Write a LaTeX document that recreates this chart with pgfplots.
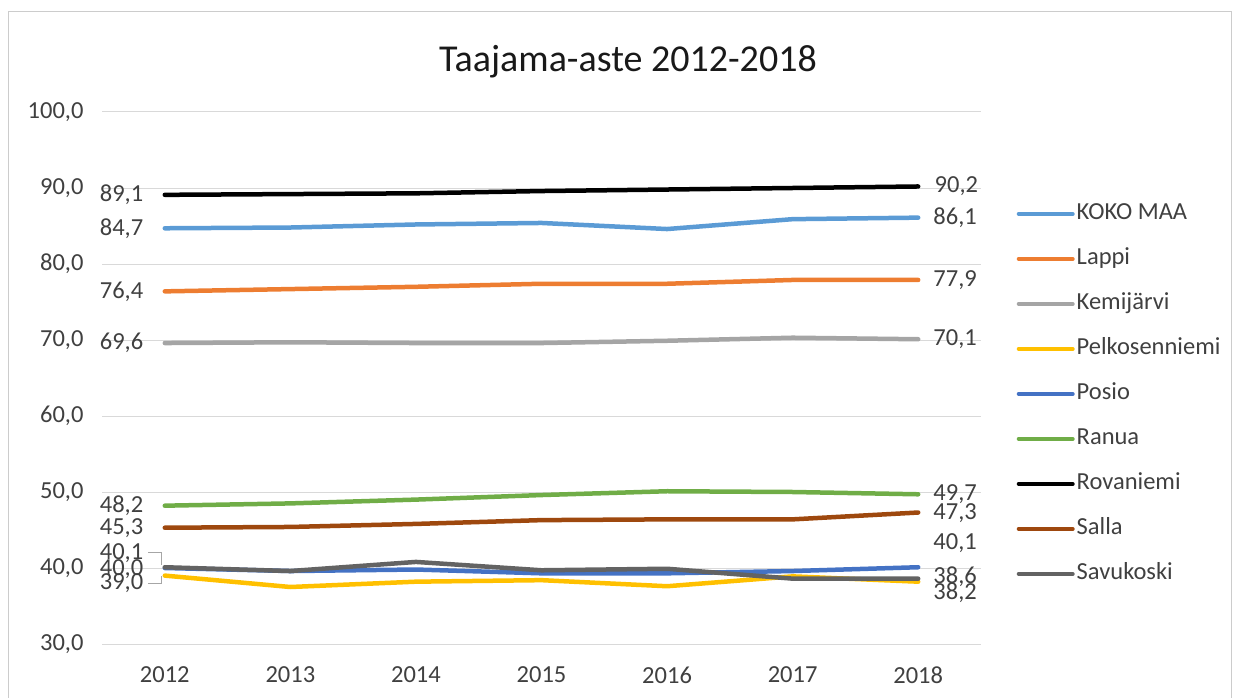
\documentclass[border=0pt]{standalone}
\usepackage{pgfplots}
\pgfplotsset{compat=1.18}
\usepackage{fontspec}
\setmainfont{Carlito}
\definecolor{cKoko}{HTML}{5B9BD5}
\definecolor{cLappi}{HTML}{ED7D31}
\definecolor{cKemi}{HTML}{A5A5A5}
\definecolor{cPelko}{HTML}{FFC000}
\definecolor{cPosio}{HTML}{4472C4}
\definecolor{cRanua}{HTML}{70AD47}
\definecolor{cRova}{HTML}{000000}
\definecolor{cSalla}{HTML}{9E480E}
\definecolor{cSavu}{HTML}{636363}
\definecolor{txt}{HTML}{404040}
\newcommand{\sm}{\fontsize{24.5}{29}\selectfont}
\begin{document}
\begin{tikzpicture}[x=1pt,y=1pt]
\useasboundingbox (0,0) rectangle (1234,697);
\draw[color=black!20, line width=1pt] (8.5,-10) rectangle (1231,685);
\node[font=\fontsize{38}{45}\selectfont, text=black!90] at (628,635) {Taajama-aste 2012-2018};
\begin{axis}[at={(102pt,53pt)}, anchor=south west, scale only axis,
  width=879pt, height=532pt,
  xmin=2011.5, xmax=2018.5, ymin=30, ymax=100,
  xtick={2012,2013,2014,2015,2016,2017,2018},
  xticklabels={2012,2013,2014,2015,2016,2017,2018},
  ytick={30,40,50,60,70,80,90,100},
  ymajorgrids, grid style={black!15, line width=1pt},
  axis line style={draw=none}, major tick length=0pt,
  /pgf/number format/assume math mode=true,
  yticklabel style={/pgf/number format/fixed, /pgf/number format/fixed zerofill, /pgf/number format/precision=1, /pgf/number format/use comma, xshift=-15pt},
  tick label style={font=\sm, text=txt},
  xticklabel style={yshift=-19pt},
  every axis plot/.append style={line width=4.5pt, line join=round, line cap=round},
  legend style={at={(1.037,0.47)}, anchor=west, draw=none, fill=none, font=\sm, text=txt,
    row sep=20pt, nodes={text height=16pt, text depth=5pt, inner sep=2pt}},
  legend cell align=left,
  legend image code/.code={\draw[#1, line width=4pt, line cap=round] (0pt,0pt) -- (54pt,0pt);},
  clip=false,
]
\addplot[cKoko] coordinates {(2012,84.7) (2013,84.8) (2014,85.2) (2015,85.4) (2016,84.6) (2017,85.9) (2018,86.1)};
\addlegendentry{KOKO MAA}
\addplot[cLappi] coordinates {(2012,76.4) (2013,76.7) (2014,77.0) (2015,77.4) (2016,77.4) (2017,77.9) (2018,77.9)};
\addlegendentry{Lappi}
\addplot[cKemi] coordinates {(2012,69.6) (2013,69.7) (2014,69.6) (2015,69.6) (2016,69.9) (2017,70.3) (2018,70.1)};
\addlegendentry{Kemijärvi}
\addplot[cPelko] coordinates {(2012,39.0) (2013,37.5) (2014,38.2) (2015,38.4) (2016,37.6) (2017,38.9) (2018,38.2)};
\addlegendentry{Pelkosenniemi}
\addplot[cPosio] coordinates {(2012,40.0) (2013,39.6) (2014,39.8) (2015,39.3) (2016,39.3) (2017,39.6) (2018,40.1)};
\addlegendentry{Posio}
\addplot[cRanua] coordinates {(2012,48.2) (2013,48.5) (2014,49.0) (2015,49.6) (2016,50.1) (2017,50.0) (2018,49.7)};
\addlegendentry{Ranua}
\addplot[cRova] coordinates {(2012,89.1) (2013,89.2) (2014,89.3) (2015,89.6) (2016,89.8) (2017,90.0) (2018,90.2)};
\addlegendentry{Rovaniemi}
\addplot[cSalla] coordinates {(2012,45.3) (2013,45.4) (2014,45.8) (2015,46.3) (2016,46.4) (2017,46.4) (2018,47.3)};
\addlegendentry{Salla}
\addplot[cSavu] coordinates {(2012,40.1) (2013,39.6) (2014,40.8) (2015,39.7) (2016,39.9) (2017,38.6) (2018,38.6)};
\addlegendentry{Savukoski}
% data labels, 2012
\begin{scope}[every node/.style={font=\sm, text=txt, inner sep=0pt}]
\node[anchor=east] at (axis cs:2011.83,89.1) {89,1};
\node[anchor=east] at (axis cs:2011.83,84.7) {84,7};
\node[anchor=east] at (axis cs:2011.83,76.4) {76,4};
\node[anchor=east] at (axis cs:2011.83,69.6) {69,6};
\node[anchor=east] at (axis cs:2011.83,48.2) {48,2};
\node[anchor=east] at (axis cs:2011.83,45.3) {45,3};
\node[anchor=east] at (axis cs:2011.83,42.0) {40,1};
\node[anchor=east] at (axis cs:2011.83,39.9) {40,0};
\node[anchor=east] at (axis cs:2011.83,38.0) {39,0};
% 2018
\node[anchor=west] at (axis cs:2018.13,90.3) {90,2};
\node[anchor=west] at (axis cs:2018.12,86.1) {86,1};
\node[anchor=west] at (axis cs:2018.12,77.9) {77,9};
\node[anchor=west] at (axis cs:2018.12,70.1) {70,1};
\node[anchor=west] at (axis cs:2018.12,49.7) {49,7};
\node[anchor=west] at (axis cs:2018.12,47.2) {47,3};
\node[anchor=west] at (axis cs:2018.12,43.3) {40,1};
\node[anchor=west] at (axis cs:2018.12,38.8) {38,6};
\node[anchor=west] at (axis cs:2018.12,36.8) {38,2};
\end{scope}
\draw[black!35, line width=1pt] (axis cs:2011.87,42.0) -- (axis cs:2011.976,42.0) -- (axis cs:2011.976,40.4);
\draw[black!35, line width=1pt] (axis cs:2011.87,38.0) -- (axis cs:2011.976,38.0) -- (axis cs:2011.976,39.0);
\end{axis}
\end{tikzpicture}
\end{document}
